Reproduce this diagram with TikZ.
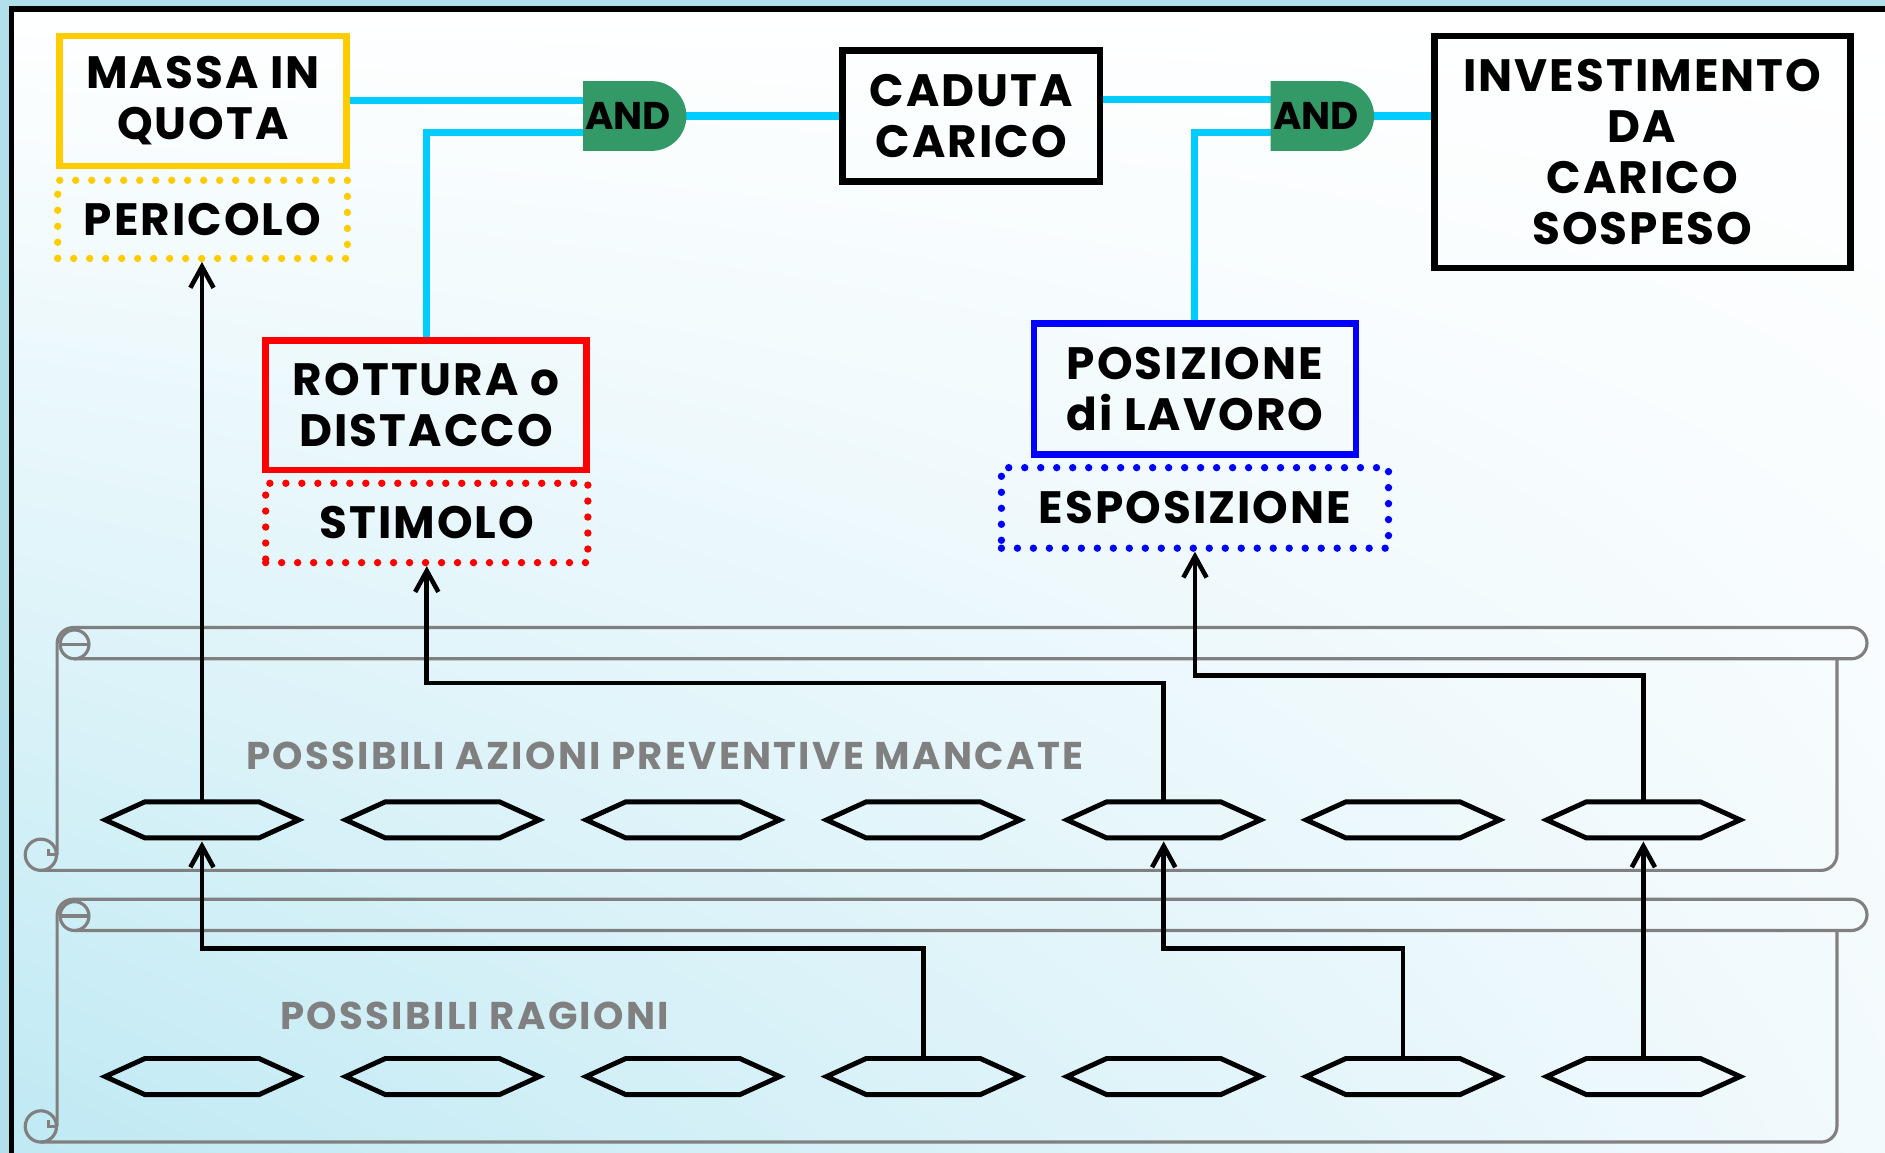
\documentclass[tikz,border=0pt]{standalone}
\usepackage{fontspec}
\setmainfont{Poppins}
\usetikzlibrary{calc,arrows.meta,shadings}
\definecolor{gold}{HTML}{FFCC00}
\definecolor{cyanline}{HTML}{00CCFF}
\definecolor{andgreen}{HTML}{339966}
\definecolor{scrollgray}{HTML}{808080}
\definecolor{edgeblue}{HTML}{B1DFEA}
\definecolor{bgcyan}{HTML}{BCE8F3}
\definecolor{bgpale}{HTML}{F3FAFD}
\def\U{0.012022cm}
\pgfdeclarelayer{bg}
\pgfdeclarelayer{lines}
\pgfsetlayers{bg,lines,main}
\newcommand\drawscroll[2]{%
  \draw[scrollline] (47.5,{#2-13}) -- (47.5,{#1+13.5}) arc[start angle=180,end angle=270,radius=13.5] -- (1540,#1) arc[start angle=-90,end angle=90,radius=13] -- (62,{#1+26});
  \draw[scrollline] (62,{#1+14}) circle[radius=12];
  \draw[scrollline] (50,{#1+14}) -- (74,{#1+14});
  \draw[scrollline,rounded corners=4.5pt] (1528,{#1+26}) -- (1528,#2) -- (34,#2);
  \draw[scrollline] (34,{#2-13}) circle[radius=13];
  \draw[scrollline] (47.5,{#2-13}) -- (40,{#2-13}) -- (40,{#2-18});
}
\newcommand\hexat[3]{%
  \node[hexcore] (#1) at (#2,#3) {};
  \draw[hexline] (#1.north west) -- (#1.north east) -- ($(#1.east)+(33,0)$) -- (#1.south east) -- (#1.south west) -- ($(#1.west)+(-33,0)$) -- cycle;
}
\begin{document}
\begin{tikzpicture}[x=0.012022cm,y=-0.012022cm,
  boxtext/.style={font=\fontsize{12.9}{14.5}\selectfont\bfseries\addfontfeature{LetterSpace=4.5}, align=center, inner sep=0pt, outer sep=0pt},
  nodebox/.style={boxtext, line width=1.9pt},
  dotbox/.style={boxtext, line width=2.1pt, dash pattern=on 0pt off 4.55pt, line cap=round},
  gate/.style={minimum width=86*\U, minimum height=58*\U, inner sep=0pt, outer sep=0pt,
    font=\fontsize{11}{13}\selectfont\bfseries,
    path picture={\fill[andgreen] (path picture bounding box.north west) -- ++(57,0) arc[start angle=-90,end angle=90,radius=29] -- (path picture bounding box.south west) -- cycle;}},
  cy/.style={draw=cyanline, line width=2pt},
  scrollline/.style={draw=scrollgray, line width=0.9pt},
  hexcore/.style={minimum width=95*\U, minimum height=30*\U, inner sep=0pt, outer sep=0pt},
  hexline/.style={draw=black, line width=1.4pt, line join=miter},
  arr/.style={draw=black, line width=1.3pt, -{Straight Barb[length=6pt,width=6.6pt]}, shorten >=1pt},
  graylabel/.style={text=scrollgray, font=\fontsize{11}{13}\selectfont\bfseries\addfontfeature{LetterSpace=6}, inner sep=0pt}
]
\useasboundingbox (0,0) rectangle (1568,959);
\clip (0,0) rectangle (1568,959);
\begin{pgfonlayer}{bg}
  \fill[edgeblue] (0,0) rectangle (1568,959);
  \shade[upper left=white, upper right=white, lower left=bgcyan, lower right=bgpale] (9.5,7.5) rectangle (1600,1000);
  \draw[line width=1.5pt] (9.5,1100) -- (9.5,7.5) -- (1700,7.5);
  \drawscroll{522}{724}
  \drawscroll{748}{950}
\end{pgfonlayer}

% top level nodes
\node[nodebox, draw=gold, minimum width=238.5*\U, minimum height=108*\U] (massa) at (168.75,84) {MASSA IN\\QUOTA};
\node[dotbox, draw=gold, minimum width=241*\U, minimum height=65*\U] (pericolo) at (168.5,182.5) {PERICOLO};
\node[gate] (and1) at (528,96.5) {AND\kern0.13cm};
\node[nodebox, draw=black, minimum width=214*\U, minimum height=109*\U] (caduta) at (808,96.5) {CADUTA\\CARICO};
\node[gate] (and2) at (1100,96.5) {AND\kern0.13cm};
\node[nodebox, draw=black, minimum width=346*\U, minimum height=193*\U] (invest) at (1366,126.5) {INVESTIMENTO\\DA\\CARICO\\SOSPESO};
\node[nodebox, draw=red, minimum width=267*\U, minimum height=108*\U] (rottura) at (354.5,337) {ROTTURA o\\DISTACCO};
\node[dotbox, draw=red, minimum width=268*\U, minimum height=66*\U] (stimolo) at (355,435) {STIMOLO};
\node[nodebox, draw=blue, minimum width=268*\U, minimum height=109*\U] (posiz) at (994,323.5) {POSIZIONE\\di LAVORO};
\node[dotbox, draw=blue, minimum width=322*\U, minimum height=67*\U] (espo) at (994,422.5) {ESPOSIZIONE};

% gray labels
\node[graylabel] (lab1) at (553,629) {POSSIBILI AZIONI PREVENTIVE MANCATE};
\node[graylabel] (lab2) at (395,845) {POSSIBILI RAGIONI};

% hexagons
\foreach \i/\x in {1/168,2/368,3/568,4/768,5/968,6/1167,7/1367} {
  \hexat{r1c\i}{\x}{682}
  \hexat{r2c\i}{\x}{895.5}
}

% cyan connectors
\coordinate (a1in1) at ($(and1.west)+(0,-13)$);
\coordinate (a1in2) at ($(and1.west)+(0,13.5)$);
\coordinate (a2in1) at ($(and2.west)+(0,-13.5)$);
\coordinate (a2in2) at ($(and2.west)+(0,13.5)$);
\begin{pgfonlayer}{lines}
  \draw[cy] (massa.east |- a1in1) -- (a1in1);
  \draw[cy] (rottura.north) |- (a1in2);
  \draw[cy] (and1.east) -- (and1.east -| caduta.west);
  \draw[cy] (caduta.east |- a2in1) -- (a2in1);
  \draw[cy] (posiz.north) |- (a2in2);
  \draw[cy] (and2.east) -- (and2.east -| invest.west);
\end{pgfonlayer}

% black arrows
\coordinate (lvl1) at (0,568);
\coordinate (lvl2) at (0,562);
\coordinate (lvl3) at (0,789);
\draw[arr] (r1c1.north) -- (r1c1.north |- pericolo.south);
\draw[arr] (r1c5.north) -- (r1c5.north |- lvl1) -| (stimolo.south);
\draw[arr] (r1c7.north) -- (r1c7.north |- lvl2) -| (espo.south);
\draw[arr] (r2c4.north) -- (r2c4.north |- lvl3) -| (r1c1.south);
\draw[arr] (r2c6.north) -- (r2c6.north |- lvl3) -| (r1c5.south);
\draw[arr] (r2c7.north) -- (r1c7.south);
\end{tikzpicture}
\end{document}
